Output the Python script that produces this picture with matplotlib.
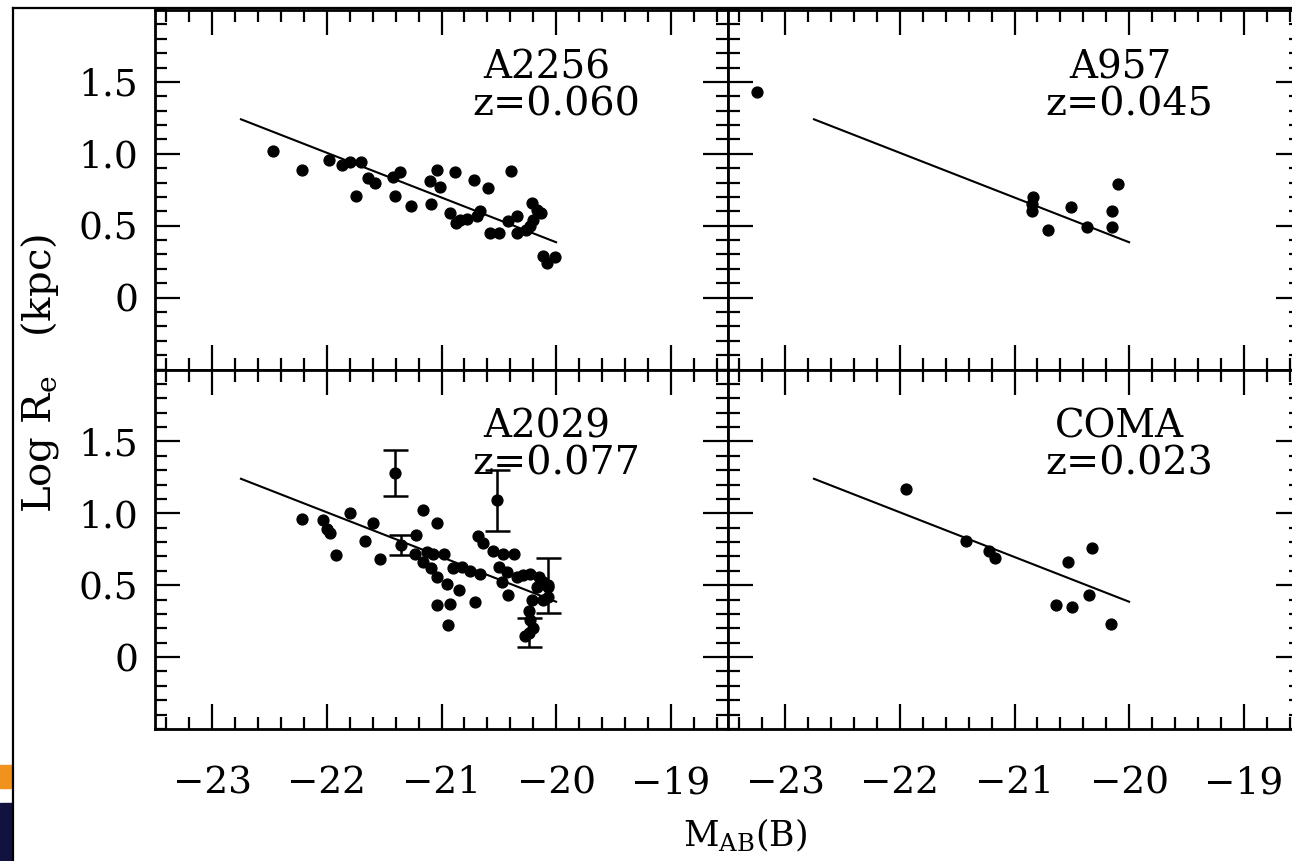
import matplotlib
matplotlib.use("Agg")
import matplotlib.pyplot as plt
from matplotlib.lines import Line2D
from matplotlib.patches import Rectangle
from matplotlib.ticker import MultipleLocator

plt.rcParams.update({"font.family": "DejaVu Serif", "mathtext.fontset": "dejavuserif",
                     "font.size": 27})

# common size-luminosity fit, log Re = a + b * M
fit_mag = [-22.75, -20.0]
fit_logre = [1.24, 0.385]

a2256_mag = [-22.47, -22.22, -21.98, -21.87, -21.80, -21.70, -21.64, -21.58, -21.75, -21.42,
             -21.36, -21.41, -21.27, -21.09, -21.10, -21.04, -21.01, -20.88, -20.72, -20.59,
             -20.39, -20.93, -20.84, -20.87, -20.78, -20.66, -20.69, -20.58, -20.50, -20.42,
             -20.34, -20.34, -20.26, -20.21, -20.17, -20.13, -20.20, -20.23, -20.11, -20.01, -20.08]
a2256_logre = [1.02, 0.89, 0.96, 0.92, 0.94, 0.94, 0.83, 0.80, 0.71, 0.84,
               0.87, 0.71, 0.64, 0.65, 0.81, 0.89, 0.77, 0.87, 0.82, 0.76,
               0.88, 0.59, 0.54, 0.52, 0.55, 0.60, 0.57, 0.45, 0.45, 0.53,
               0.57, 0.45, 0.47, 0.66, 0.61, 0.59, 0.54, 0.50, 0.29, 0.28, 0.24]

a957_mag = [-23.25, -20.84, -20.85, -20.85, -20.71, -20.51, -20.37, -20.15, -20.15, -20.10]
a957_logre = [1.43, 0.70, 0.65, 0.60, 0.47, 0.63, 0.49, 0.60, 0.49, 0.79]

a2029_mag = [-22.22, -22.03, -22.00, -21.97, -21.92, -21.80, -21.60, -21.67, -21.54, -21.22,
             -21.16, -21.04, -21.23, -21.13, -21.07, -20.98, -21.16, -21.09, -21.04, -20.95,
             -20.90, -20.82, -20.75, -20.66, -20.85, -21.04, -20.93, -20.71, -20.94, -20.68,
             -20.64, -20.55, -20.46, -20.37, -20.50, -20.43, -20.47, -20.42, -20.34, -20.29,
             -20.23, -20.15, -20.11, -20.07, -20.17, -20.21, -20.24, -20.23, -20.20, -20.27,
             -20.07, -20.11]
a2029_logre = [0.96, 0.95, 0.89, 0.86, 0.71, 1.00, 0.93, 0.81, 0.68, 0.85,
               1.02, 0.93, 0.72, 0.73, 0.72, 0.72, 0.66, 0.62, 0.56, 0.51,
               0.62, 0.63, 0.60, 0.58, 0.47, 0.36, 0.37, 0.38, 0.22, 0.84,
               0.79, 0.74, 0.72, 0.72, 0.63, 0.59, 0.52, 0.43, 0.56, 0.57,
               0.58, 0.56, 0.52, 0.49, 0.49, 0.40, 0.32, 0.26, 0.20, 0.15,
               0.42, 0.40]
# A2029 galaxies plotted with their errors
a2029_err_mag = [-21.41, -20.52, -20.07, -20.24, -21.35]
a2029_err_logre = [1.28, 1.09, 0.50, 0.17, 0.78]
a2029_err = [0.16, 0.21, 0.19, 0.10, 0.07]

coma_mag = [-21.95, -21.42, -21.22, -21.17, -20.53, -20.32, -20.35, -20.64, -20.50, -20.16]
coma_logre = [1.17, 0.81, 0.74, 0.69, 0.66, 0.76, 0.43, 0.36, 0.35, 0.23]

panels = [
    ("A2256", "z=0.060", a2256_mag, a2256_logre),
    ("A957", "z=0.045", a957_mag, a957_logre),
    ("A2029", "z=0.077", a2029_mag, a2029_logre),
    ("COMA", "z=0.023", coma_mag, coma_logre),
]

W, H = 1292, 861
fig = plt.figure(figsize=(W / 100, H / 100), dpi=100)

left_x = [155 / W, 728 / W]
pw = 573 / W
ph = 359.5 / H
rows_y = [1 - 369.5 / H, 1 - 729 / H]

for i, (name, zlab, mag, logre) in enumerate(panels):
    row, col = divmod(i, 2)
    ax = fig.add_axes([left_x[col], rows_y[row], pw, ph])
    ax.plot(fit_mag, fit_logre, color="black", lw=1.5)
    ax.plot(mag, logre, "o", color="black", ms=7.8, mec="black")
    if name == "A2029":
        ax.errorbar(a2029_err_mag, a2029_err_logre, yerr=a2029_err, fmt="o", color="black",
                    ms=7.8, elinewidth=1.8, capsize=9, capthick=1.8)
    ax.text(-20.08, 1.60, name, ha="center", va="center", fontsize=28)
    ax.text(-20.0, 1.34, zlab, ha="center", va="center", fontsize=28.5)

    ax.set_xlim(-23.5, -18.5)
    ax.set_ylim(-0.5, 2.0)
    ax.set_xticks([-23, -22, -21, -20, -19])
    ax.set_xticklabels(["\u221223", "\u221222", "\u221221", "\u221220", "\u221219"])
    ax.set_yticks([0, 0.5, 1.0, 1.5])
    ax.set_yticklabels(["0", "0.5", "1.0", "1.5"])
    ax.xaxis.set_minor_locator(MultipleLocator(0.2))
    ax.yaxis.set_minor_locator(MultipleLocator(0.1))
    ax.tick_params(which="both", direction="in", top=True, right=True, width=1.6)
    ax.tick_params(which="major", length=18)
    ax.tick_params(which="minor", length=8.5)
    ax.tick_params(axis="x", pad=26)
    ax.tick_params(axis="y", pad=12)
    ax.tick_params(labelbottom=(row == 1), labelleft=(col == 0))
    for sp in ax.spines.values():
        sp.set_linewidth(2.0)

fig.text(40 / W, 1 - 373 / H, r"Log R$_{\mathrm{e}}$   (kpc)", rotation=90,
         ha="center", va="center", fontsize=29)
fig.text(745 / W, 1 - 835 / H, r"M$_{\mathrm{AB}}$(B)", ha="center", va="center", fontsize=25)

# slide frame pieces around the figure
fig.add_artist(Line2D([12.7 / W, 1], [1 - 8 / H, 1 - 8 / H], color="black", lw=1.6,
                      transform=fig.transFigure))
fig.add_artist(Line2D([12.7 / W, 12.7 / W], [0, 1 - 8 / H], color="black", lw=1.6,
                      transform=fig.transFigure))
fig.add_artist(Rectangle((0, 1 - 788 / H), 12 / W, 23 / H, color="#f0921c",
                         transform=fig.transFigure))
fig.add_artist(Rectangle((0, 0), 12 / W, 58 / H, color="#111240",
                         transform=fig.transFigure))

fig.savefig("out.png", dpi=100)
